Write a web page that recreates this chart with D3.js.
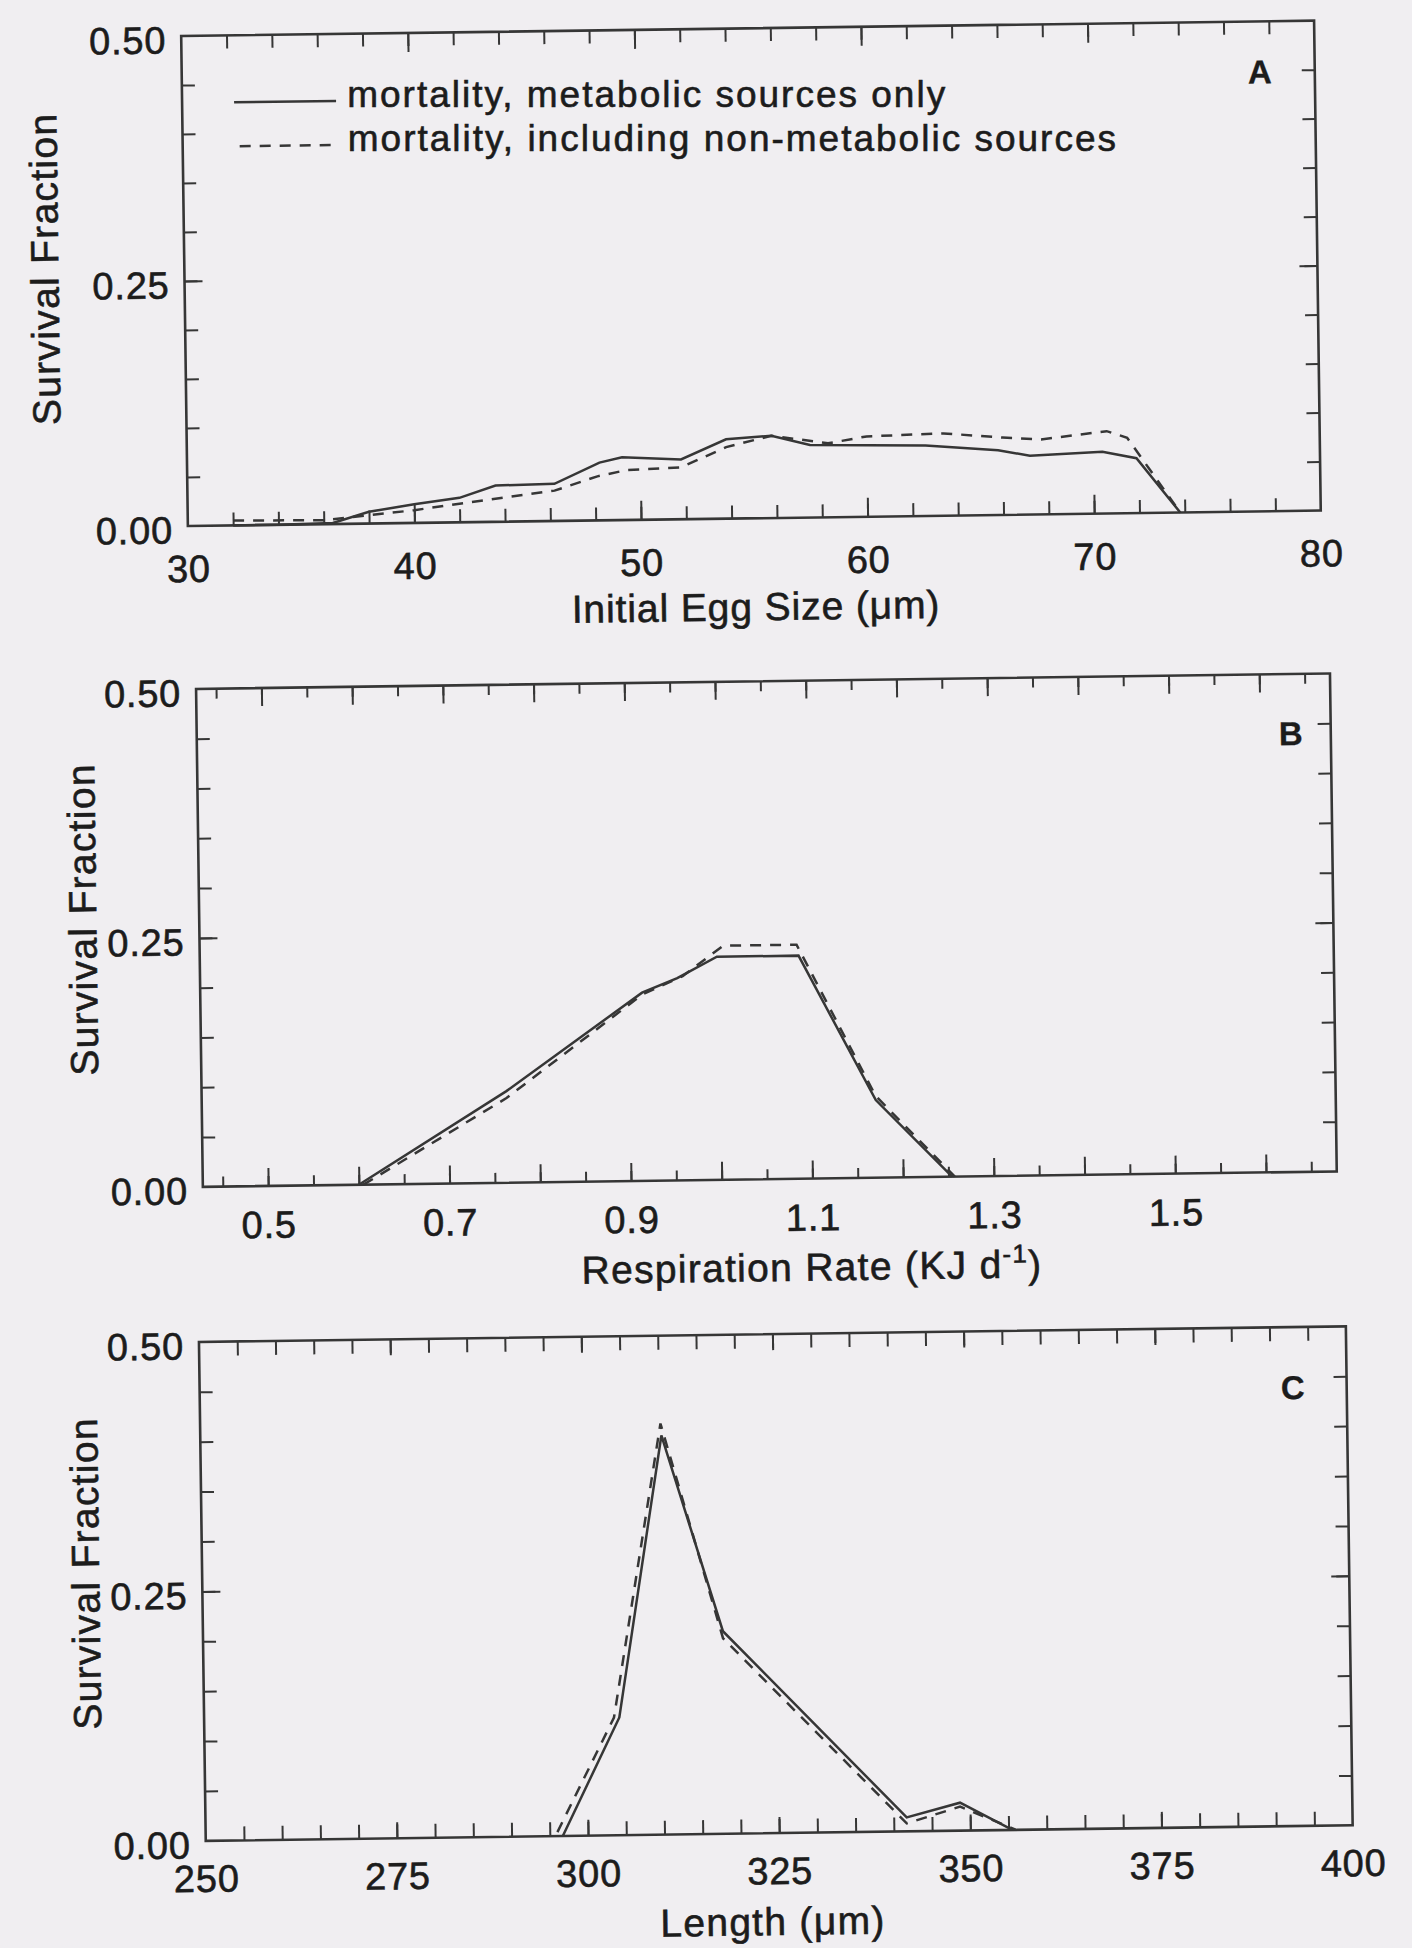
<!DOCTYPE html>
<html><head><meta charset="utf-8">
<script src="https://cdn.jsdelivr.net/npm/d3@7"></script>
<style>
html,body{margin:0;padding:0;background:#f0eef1;}
svg{display:block;}
</style></head><body>
<svg id="chart" width="1412" height="1948"></svg>
<script>
// ---------- DATA ----------
// Panel A: Initial egg size (µm)
const eggSizeMetabolic = [32, 34, 36.4, 38, 40, 42, 43.6, 46.2, 48.2, 49.2, 51.8, 53.8, 55.8, 57.5, 62.6, 65.8, 67.2, 70.4, 71.9, 73.8];
const survEggMetabolic = [0, 0, 0.001, 0.012, 0.019, 0.025, 0.037, 0.038, 0.059, 0.064, 0.061, 0.081, 0.084, 0.074, 0.072, 0.066, 0.060, 0.063, 0.056, 0];
const eggSizeAll = [32, 36, 38, 40, 42, 46.2, 48.1, 49.4, 51.8, 53.8, 55.8, 58.3, 60, 63.4, 66, 67.7, 70.6, 71.5, 73.8];
const survEggAll = [0.005, 0.004, 0.0085, 0.013, 0.019, 0.031, 0.045, 0.051, 0.053, 0.073, 0.084, 0.0755, 0.082, 0.084, 0.079, 0.0765, 0.084, 0.077, 0];

// Panel B: Respiration rate (KJ d-1)
const respMetabolic = [0.6, 0.764, 0.915, 0.954, 0.998, 1.088, 1.171, 1.254];
const survRespMetabolic = [0, 0.092, 0.189, 0.203, 0.224, 0.224, 0.078, 0];
const respAll = [0.605, 0.764, 0.915, 0.96, 1.005, 1.086, 1.171, 1.257];
const survRespAll = [0, 0.085, 0.187, 0.205, 0.235, 0.235, 0.082, 0];

// Panel C: Length (µm)
const lengthMetabolic = [296.7, 304.3, 310.3, 318.0, 341.7, 348.7, 355.5];
const survLengthMetabolic = [0, 0.118, 0.400, 0.203, 0.014, 0.028, 0];
const lengthAll = [296.0, 303.6, 310.2, 318.0, 341.7, 348.7, 356.0];
const survLengthAll = [0.004, 0.118, 0.412, 0.196, 0.008, 0.024, 0];

// Tick labels
const eggTickLabels = ["30", "40", "50", "60", "70", "80"];
const respTickLabels = ["0.5", "0.7", "0.9", "1.1", "1.3", "1.5"];
const lengthTickLabels = ["250", "275", "300", "325", "350", "375", "400"];
const survTickLabels = ["0.00", "0.25", "0.50"];

const seriesNames = ["mortality, metabolic sources only", "mortality, including non-metabolic sources"];
const panelLetters = ["A", "B", "C"];

// ---------- DRAWING ----------
const INK = "#363636";
const TXT = "#1c1c1c";
const FONT = "'Liberation Sans', Arial, Helvetica, sans-serif";
const TSTROKE = 0.6;
const ANGLE = -0.78, CX = 706, CY = 974;   // slight tilt of the scanned page

const svg = d3.select("#chart");
svg.append("rect").attr("width", 1412).attr("height", 1948).attr("fill", "#f0eef1");
const root = svg.append("g").attr("transform", `rotate(${ANGLE} ${CX} ${CY})`);

function rot(px, py) {
  const a = ANGLE * Math.PI / 180, dx = px - CX, dy = py - CY;
  return [CX + dx * Math.cos(a) - dy * Math.sin(a), CY + dx * Math.sin(a) + dy * Math.cos(a)];
}
function styleTicks(sel) {
  sel.select(".domain").remove();
  sel.selectAll("line").attr("stroke", INK).attr("stroke-width", 2);
}
function inkText(sel) {
  sel.attr("fill", TXT).attr("stroke", TXT).attr("stroke-width", TSTROKE);
}

function drawPanel(p) {
  const g = root.append("g");
  const x = d3.scaleLinear().domain(p.xDomain).range([p.left, p.right]);
  const y = d3.scaleLinear().domain([0, 0.5]).range([p.bottom, p.top]);

  const yMinor = d3.range(1, 10).map(i => i * 0.05);
  const yMajor = [0.25];

  // x ticks bottom & top (inward)
  [[d3.axisBottom, p.bottom], [d3.axisTop, p.top]].forEach(([ax, pos]) => {
    g.append("g").attr("transform", `translate(0,${pos})`)
      .call(ax(x).tickValues(p.xMinor).tickSize(-p.minorLen).tickFormat(""))
      .call(styleTicks);
    g.append("g").attr("transform", `translate(0,${pos})`)
      .call(ax(x).tickValues(p.xMajor).tickSize(-p.majorLen).tickFormat(""))
      .call(styleTicks);
  });
  // y ticks left & right (inward)
  [[d3.axisLeft, p.left], [d3.axisRight, p.right]].forEach(([ax, pos]) => {
    g.append("g").attr("transform", `translate(${pos},0)`)
      .call(ax(y).tickValues(yMinor).tickSize(-13).tickFormat(""))
      .call(styleTicks);
    g.append("g").attr("transform", `translate(${pos},0)`)
      .call(ax(y).tickValues(yMajor).tickSize(-18).tickFormat(""))
      .call(styleTicks);
  });

  // frame
  g.append("rect").attr("x", p.left).attr("y", p.top)
    .attr("width", p.right - p.left).attr("height", p.bottom - p.top)
    .attr("fill", "none").attr("stroke", INK).attr("stroke-width", 2.6);

  // x tick labels
  const xl = g.append("g").attr("transform", `translate(0,${p.bottom})`)
    .call(d3.axisBottom(x).tickValues(p.labels.map(Number))
      .tickFormat((d, i) => p.labels[i]).tickSize(0).tickPadding(p.xLabelPad));
  xl.select(".domain").remove();
  xl.attr("font-family", FONT).attr("font-size", 38);
  xl.selectAll("text").call(inkText).attr("letter-spacing", 0.8);

  // y tick labels
  const yl = g.append("g").attr("transform", `translate(${p.left},0)`)
    .call(d3.axisLeft(y).tickValues(survTickLabels.map(Number))
      .tickFormat((d, i) => survTickLabels[i]).tickSize(0).tickPadding(15));
  yl.select(".domain").remove();
  yl.attr("font-family", FONT).attr("font-size", 38);
  yl.selectAll("text").call(inkText).attr("dy", "0.44em").attr("letter-spacing", 0.8);

  // data lines
  const line = d3.line().x(d => x(d[0])).y(d => y(d[1]));
  g.append("path").datum(d3.zip(p.xAll, p.yAll)).attr("d", line)
    .attr("fill", "none").attr("stroke", INK).attr("stroke-width", 2.5)
    .attr("stroke-dasharray", "11,9");
  g.append("path").datum(d3.zip(p.xMet, p.yMet)).attr("d", line)
    .attr("fill", "none").attr("stroke", INK).attr("stroke-width", 2.5);

  // panel letter
  g.append("text").attr("x", p.right - p.letterDx).attr("y", p.top + p.letterDy)
    .attr("text-anchor", "middle").attr("font-family", FONT).attr("font-weight", "bold")
    .attr("font-size", 33).call(inkText).attr("stroke-width", 0.3).text(p.letter);

  // y title
  g.append("text").attr("transform", `translate(${p.yTitleX},${p.yTitleY}) rotate(-90)`)
    .attr("text-anchor", "middle").attr("dy", "0.36em")
    .attr("font-family", FONT).attr("font-size", 39).attr("letter-spacing", 1.3)
    .call(inkText).text("Survival Fraction");

  // x title
  const t = g.append("text").attr("x", p.xTitleX).attr("y", p.bottom + 102)
    .attr("text-anchor", "middle").attr("font-family", FONT).attr("font-size", 39)
    .attr("letter-spacing", p.titleSpacing).call(inkText);
  p.title(t);

  return { g, x, y };
}

const A = drawPanel({
  left: 194, right: 1327, top: 29, bottom: 519, xDomain: [30, 80],
  xMinor: d3.range(32, 80, 2), xMajor: [40, 50, 60, 70], minorLen: 13, majorLen: 19,
  labels: eggTickLabels, xLabelPad: 29,
  xMet: eggSizeMetabolic, yMet: survEggMetabolic, xAll: eggSizeAll, yAll: survEggAll,
  letter: panelLetters[0], letterDx: 55, letterDy: 62,
  yTitleX: 54, yTitleY: 260, xTitleX: 761, titleSpacing: 0.9,
  title: t => t.text("Initial Egg Size (\u03BCm)")
});

drawPanel({
  left: 200, right: 1334, top: 682, bottom: 1180, xDomain: [0.428, 1.678],
  xMinor: d3.range(9, 34).map(i => +(i * 0.05).toFixed(2)), xMajor: d3.range(5, 17).map(i => +(i * 0.1).toFixed(1)),
  minorLen: 10, majorLen: 18,
  labels: respTickLabels, xLabelPad: 25,
  xMet: respMetabolic, yMet: survRespMetabolic, xAll: respAll, yAll: survRespAll,
  letter: panelLetters[1], letterDx: 40, letterDy: 71,
  yTitleX: 83, yTitleY: 911, xTitleX: 808, titleSpacing: 1.3,
  title: t => {
    t.append("tspan").text("Respiration Rate (KJ d");
    t.append("tspan").attr("dy", -15).attr("font-size", 26).text("-1");
    t.append("tspan").attr("dy", 15).text(")");
  }
});

drawPanel({
  left: 194, right: 1341, top: 1335, bottom: 1834, xDomain: [250, 400],
  xMinor: d3.range(255, 400, 5), xMajor: [275, 300, 325, 350, 375], minorLen: 14, majorLen: 16,
  labels: lengthTickLabels, xLabelPad: 24,
  xMet: lengthMetabolic, yMet: survLengthMetabolic, xAll: lengthAll, yAll: survLengthAll,
  letter: panelLetters[2], letterDx: 54, letterDy: 72,
  yTitleX: 77, yTitleY: 1565, xTitleX: 760, titleSpacing: 1.3,
  title: t => t.text("Length (\u03BCm)")
});

// legend (panel A): sample lines follow the page tilt, texts are kept level
const leg = A.g.append("g");
const legTexts = svg.append("g");
[[96, null], [140, "11,9"]].forEach(([ly, dash], i) => {
  leg.append("line").attr("x1", i ? 251 : 246).attr("x2", 348).attr("y1", ly).attr("y2", ly)
    .attr("stroke", INK).attr("stroke-width", 2.5).attr("stroke-dasharray", dash);
  const [rx, ry] = rot(359 + 290, ly + 10);
  legTexts.append("text").attr("x", rx - 290).attr("y", ry).attr("font-family", FONT)
    .attr("font-size", 37).attr("letter-spacing", 2.0).call(inkText).text(seriesNames[i]);
});
</script>
</body></html>
